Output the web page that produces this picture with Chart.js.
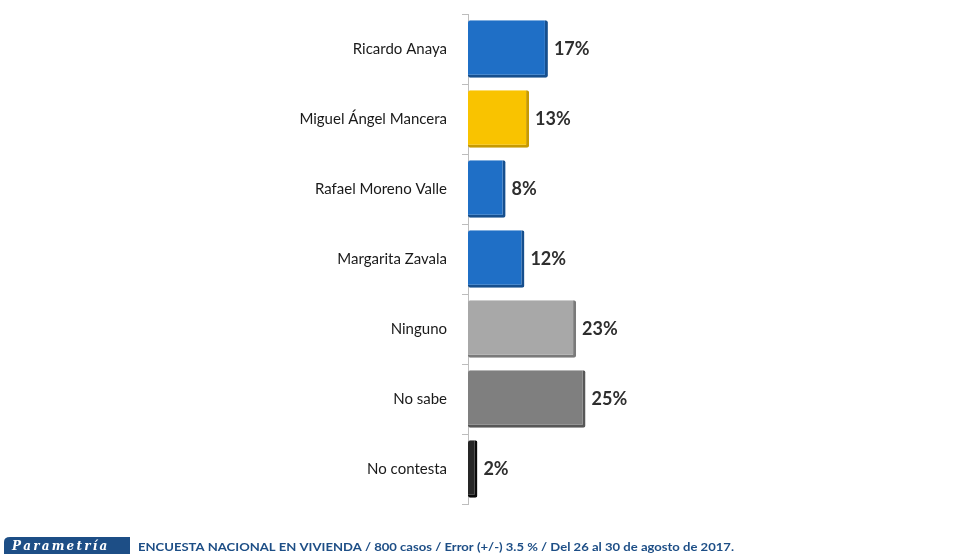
<!DOCTYPE html>
<html>
<head>
<meta charset="utf-8">
<script src="https://cdn.jsdelivr.net/npm/chart.js@4.4.0/dist/chart.umd.min.js"></script>
<style>
  html, body { margin: 0; padding: 0; background: #ffffff; }
  #wrap { width: 961px; height: 554px; position: relative; }
</style>
</head>
<body>
<div id="wrap"><canvas id="grafica"></canvas></div>
<script>
// Datos de la encuesta
const categorias = ['Ricardo Anaya', 'Miguel Ángel Mancera', 'Rafael Moreno Valle', 'Margarita Zavala', 'Ninguno', 'No sabe', 'No contesta'];
const porcentajes = [17, 13, 8, 12, 23, 25, 2];
const coloresBarra = ['#1f6fc6', '#f9c300', '#1f6fc6', '#1f6fc6', '#a8a8a8', '#7f7f7f', '#262626'];
const coloresBorde = ['#164f8e', '#c79a00', '#164f8e', '#164f8e', '#7a7a7a', '#575757', '#0a0a0a'];
const notaPie = 'ENCUESTA NACIONAL EN VIVIENDA / 800 casos / Error (+/-) 3.5 % / Del 26 al 30 de agosto de 2017.';

// Etiquetas de valor al final de cada barra
const etiquetasValor = {
    id: 'etiquetasValor',
    afterDatasetsDraw(chart) {
        const ctx = chart.ctx;
        const meta = chart.getDatasetMeta(0);
        ctx.save();
        ctx.font = 'bold 18px Lato, sans-serif';
        ctx.fillStyle = '#2e2e2e';
        ctx.textAlign = 'left';
        ctx.textBaseline = 'middle';
        meta.data.forEach((bar, i) => {
            ctx.fillText(porcentajes[i] + '%', bar.x + 6, bar.y);
        });
        ctx.restore();
    }
};

// Pie de página con el logo
const pie = {
    id: 'pie',
    afterDraw(chart) {
        const ctx = chart.ctx;
        ctx.save();
        // logo
        ctx.fillStyle = '#1d4e86';
        ctx.beginPath();
        ctx.moveTo(4, 554);
        ctx.lineTo(4, 542);
        ctx.quadraticCurveTo(4, 537, 10, 537);
        ctx.lineTo(130, 537);
        ctx.lineTo(130, 554);
        ctx.closePath();
        ctx.fill();
        ctx.fillStyle = '#ffffff';
        ctx.font = 'italic bold 12px "DejaVu Serif", serif';
        ctx.textBaseline = 'middle';
        ctx.textAlign = 'left';
        const logo = 'Parametría';
        let x = 12;
        for (const ch of logo) {
            ctx.fillText(ch, x, 547);
            x += ctx.measureText(ch).width + 2.2;
        }
        // nota
        ctx.fillStyle = '#1d4e86';
        ctx.font = 'bold 11px Lato, sans-serif';
        const w = ctx.measureText(notaPie).width;
        ctx.translate(138, 547);
        ctx.scale(596 / w, 1);
        ctx.fillText(notaPie, 0, 0);
        ctx.restore();
    }
};

new Chart(document.getElementById('grafica'), {
    type: 'bar',
    data: {
        labels: categorias,
        datasets: [{
            data: porcentajes,
            backgroundColor: coloresBarra,
            borderColor: coloresBorde,
            borderWidth: { top: 0, left: 0, right: 3, bottom: 3 },
            borderSkipped: false,
            borderRadius: 2,
            barPercentage: 0.82,
            categoryPercentage: 1
        }]
    },
    options: {
        indexAxis: 'y',
        responsive: true,
        maintainAspectRatio: false,
        animation: false,
        layout: {
            padding: { left: 0, right: 23, top: 14, bottom: 50 }
        },
        plugins: {
            legend: { display: false },
            tooltip: { enabled: false },
            title: { display: false }
        },
        scales: {
            x: {
                display: false,
                min: 0,
                max: 100
            },
            y: {
                afterFit(scale) {
                    scale.width = 468;
                    scale.paddingTop = 0;
                    scale.paddingBottom = 0;
                },
                border: { display: true, color: '#bdbdbd', width: 1 },
                grid: {
                    drawOnChartArea: false,
                    drawTicks: true,
                    tickLength: 6,
                    color: '#bdbdbd'
                },
                ticks: {
                    padding: 15,
                    color: '#1a1a1a',
                    font: { family: 'Lato, sans-serif', size: 15 }
                }
            }
        }
    },
    plugins: [etiquetasValor, pie]
});
</script>
</body>
</html>
